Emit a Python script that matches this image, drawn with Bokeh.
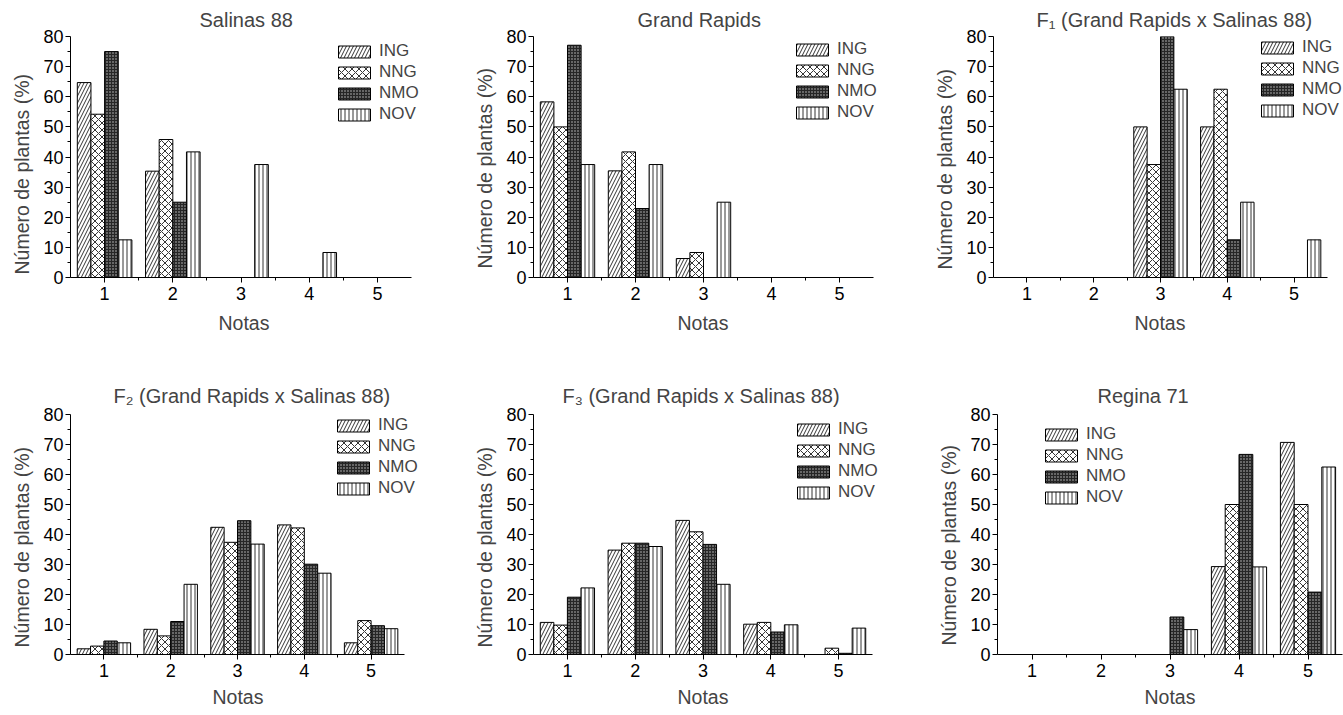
from bokeh.plotting import figure
from bokeh.models import Range1d, FixedTicker, Legend, LegendItem, ColumnDataSource, Title
from bokeh.layouts import column, row
from bokeh.embed import file_html
from bokeh.resources import INLINE
from bokeh.transform import dodge

# ---------------- data ----------------
notas = [1, 2, 3, 4, 5]
series = ["ING", "NNG", "NMO", "NOV"]

salinas_ing = [64.7, 35.3, 0, 0, 0]
salinas_nng = [54.2, 45.8, 0, 0, 0]
salinas_nmo = [75.0, 25.0, 0, 0, 0]
salinas_nov = [12.5, 41.7, 37.5, 8.3, 0]

grand_ing = [58.3, 35.4, 6.3, 0, 0]
grand_nng = [50.0, 41.7, 8.3, 0, 0]
grand_nmo = [77.1, 22.9, 0, 0, 0]
grand_nov = [37.5, 37.5, 25.0, 0, 0]

f1_ing = [0, 0, 50.0, 50.0, 0]
f1_nng = [0, 0, 37.5, 62.5, 0]
f1_nmo = [0, 0, 87.5, 12.5, 0]
f1_nov = [0, 0, 62.5, 25.0, 12.5]

f2_ing = [1.9, 8.4, 42.4, 43.2, 3.9]
f2_nng = [2.8, 6.2, 37.4, 42.2, 11.3]
f2_nmo = [4.5, 11.0, 44.6, 30.1, 9.6]
f2_nov = [3.9, 23.4, 36.8, 27.1, 8.6]

f3_ing = [10.7, 34.8, 44.7, 10.1, 0]
f3_nng = [9.8, 37.1, 40.9, 10.7, 2.1]
f3_nmo = [19.1, 37.1, 36.7, 7.5, 0.4]
f3_nov = [22.2, 36.0, 23.4, 9.9, 8.8]

regina_ing = [0, 0, 0, 29.3, 70.7]
regina_nng = [0, 0, 0, 50.0, 50.0]
regina_nmo = [0, 0, 12.5, 66.7, 20.8]
regina_nov = [0, 0, 8.3, 29.2, 62.5]

y_ticks = [0, 10, 20, 30, 40, 50, 60, 70, 80]
y_minor = [5, 15, 25, 35, 45, 55, 65, 75]
x_minor = [1.5, 2.5, 3.5, 4.5]

x_label = "Notas"
y_label = "Número de plantas (%)"

FONT = "Liberation Sans"
offsets = [-0.3, -0.1, 0.1, 0.3]
styles = {
    "ING": dict(fill_color="white", hatch_pattern="/", hatch_scale=7, hatch_weight=0.8, hatch_color="black"),
    "NNG": dict(fill_color="white", hatch_pattern="x", hatch_scale=7, hatch_weight=0.8, hatch_color="black"),
    "NMO": dict(fill_color="#262626", hatch_pattern=".", hatch_scale=3, hatch_weight=0.5, hatch_color="#c8c8c8"),
    "NOV": dict(fill_color="white", hatch_pattern="|", hatch_scale=4, hatch_weight=0.8, hatch_color="black"),
}


def panel(title_text, ing, nng, nmo, nov, fig_w, fig_h, bl, axis_px, extra, bt, bb,
          t_off, t_std, leg_x, leg_y, yl_off, xl_off, xl_std, xl_valign):
    br = fig_w - bl - axis_px - extra
    x_end = 5.5 + extra * 5.0 / axis_px
    p = figure(width=fig_w, height=fig_h, output_backend="svg", toolbar_location=None,
               tools="", x_range=Range1d(0.5, x_end), y_range=Range1d(0, 80),
               min_border_left=bl, min_border_right=br, min_border_top=bt,
               min_border_bottom=bb)
    p.xgrid.visible = False
    p.ygrid.visible = False
    p.outline_line_color = None
    p.background_fill_color = "white"
    p.border_fill_color = "white"

    src = ColumnDataSource(dict(nota=notas, ING=ing, NNG=nng, NMO=nmo, NOV=nov))
    items = []
    for i, s in enumerate(series):
        r = p.vbar(x=dodge("nota", offsets[i]), top=s, width=0.2, source=src,
                   line_color="black", line_width=1, **styles[s])
        items.append(LegendItem(label=s, renderers=[r]))

    leg = Legend(items=items, location=(leg_x, leg_y), glyph_width=40, glyph_height=15,
                 label_text_font_size="17px", label_text_font=FONT, spacing=1, padding=0,
                 border_line_color=None, background_fill_alpha=0, label_standoff=5, margin=0,
                 label_height=15, label_width=45)
    p.add_layout(leg)

    p.title.text = title_text
    p.title.align = "left"
    p.title.offset = t_off
    p.title.standoff = t_std
    p.title.text_font = FONT
    p.title.text_font_size = "20px"
    p.title.text_font_style = "normal"

    xa = p.xaxis[0]
    xa.ticker = FixedTicker(ticks=notas, minor_ticks=x_minor)
    xa.bounds = (0.5, 5.5)
    ya = p.yaxis[0]
    ya.ticker = FixedTicker(ticks=y_ticks, minor_ticks=y_minor)
    for ax in (xa, ya):
        ax.axis_line_color = "black"
        ax.major_tick_line_color = "black"
        ax.minor_tick_line_color = "black"
        ax.major_tick_out = 5
        ax.major_tick_in = 0
        ax.minor_tick_out = 3
        ax.minor_tick_in = 0
        ax.major_label_text_font = FONT
        ax.major_label_text_font_size = "18px"
        ax.major_label_text_color = "black"
    xa.major_label_standoff = 4
    ya.major_label_standoff = 2

    ylab = Title(text=y_label, align="left", offset=yl_off, standoff=16,
                 text_font=FONT, text_font_size="19.5px", text_font_style="normal")
    p.add_layout(ylab, "left")
    xlab = Title(text=x_label, align="left", offset=xl_off, standoff=xl_std,
                 vertical_align=xl_valign,
                 text_font=FONT, text_font_size="19.5px", text_font_style="normal")
    p.add_layout(xlab, "below")
    return p


p1 = panel("Salinas 88", salinas_ing, salinas_nng, salinas_nmo, salinas_nov,
           450, 358, 68, 343, 14, 36, 81, 129, 11, 264, 153, 3, 148, 18, "top")
p2 = panel("Grand Rapids", grand_ing, grand_nng, grand_nmo, grand_nov,
           450, 358, 83, 340, 12, 36, 81, 104, 11, 259, 155, 9, 144, 18, "top")
p3 = panel("F\u2081 (Grand Rapids x Salinas 88)", f1_ing, f1_nng, f1_nmo, f1_nov,
           443, 358, 93, 334, 16, 36, 81, 43, 11, 264, 157, 8, 141, 18, "top")
p4 = panel("F\u2082 (Grand Rapids x Salinas 88)", f2_ing, f2_nng, f2_nmo, f2_nov,
           450, 357, 70, 334, 21, 56, 61, 43, 16, 263, 156, 7, 142, 8, "bottom")
p5 = panel("F\u2083 (Grand Rapids x Salinas 88)", f3_ing, f3_nng, f3_nmo, f3_nov,
           450, 357, 83, 339, 16, 56, 61, 29, 16, 260, 152, 7, 144, 8, "bottom")
p6 = panel("Regina 71", regina_ing, regina_nng, regina_nmo, regina_nov,
           443, 357, 97, 345, 0, 56, 61, 100, 16, 44, 147, 9, 147, 8, "bottom")

layout = column(row(p1, p2, p3), row(p4, p5, p6))
open("out.html", "w").write(file_html(layout, INLINE))
